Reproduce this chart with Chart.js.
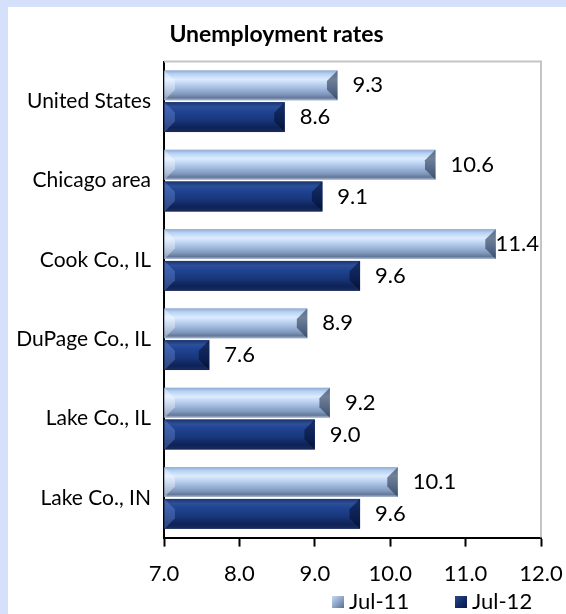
<!DOCTYPE html>
<html>
<head>
<meta charset="utf-8">
<script src="https://cdn.jsdelivr.net/npm/chart.js@4"></script>
<style>
  html, body { margin: 0; padding: 0; background: #d5e0fa; }
  #panel { position: absolute; left: 8px; top: 7px; width: 558px; height: 607px; background: #fff; }
</style>
</head>
<body>
<div id="panel"><canvas id="canvas1" width="558" height="607"></canvas></div>
<script>
// categories top to bottom, values in percent
const categories = ["United States", "Chicago area", "Cook Co., IL", "DuPage Co., IL", "Lake Co., IL", "Lake Co., IN"];
const jul11 = [9.3, 10.6, 11.4, 8.9, 9.2, 10.1];
const jul12 = [8.6, 9.1, 9.6, 7.6, 9.0, 9.6];
const seriesNames = ["Jul-11", "Jul-12"];
const xTicks = [7, 8, 9, 10, 11, 12];

const FONT = "Lato, 'Open Sans', sans-serif";

function barGradient(ctx, di, top, bottom) {
  const g = ctx.createLinearGradient(0, top, 0, bottom);
  if (di === 0) {
    g.addColorStop(0, "#90acd6");
    g.addColorStop(0.12, "#b8d2f2");
    g.addColorStop(0.3, "#dcecff");
    g.addColorStop(0.55, "#abc3e6");
    g.addColorStop(0.8, "#8098bc");
    g.addColorStop(0.92, "#62789a");
    g.addColorStop(1, "#b0bcce");
  } else {
    g.addColorStop(0, "#1a3470");
    g.addColorStop(0.15, "#2c4f9a");
    g.addColorStop(0.35, "#1e4190");
    g.addColorStop(0.6, "#183678");
    g.addColorStop(0.85, "#0e2258");
    g.addColorStop(1, "#1c2c58");
  }
  return g;
}

// glossy bevel look on each bar, drawn over the plain bar
const bevelBars = {
  id: "bevelBars",
  afterDatasetsDraw(chart) {
    const ctx = chart.ctx;
    const area = chart.chartArea;
    chart.data.datasets.forEach((ds, di) => {
      const meta = chart.getDatasetMeta(di);
      meta.data.forEach((bar) => {
        const p = bar.getProps(["x", "y", "base", "height"], true);
        const left = Math.max(p.base, area.left);
        const right = p.x;
        const top = p.y - p.height / 2;
        const bottom = p.y + p.height / 2;
        const h = bottom - top;
        ctx.save();
        ctx.fillStyle = barGradient(ctx, di, top, bottom);
        ctx.fillRect(left, top, right - left, h);
        const b = Math.min(h * 0.35, (right - left) / 2);
        // right end, darker wedge
        ctx.fillStyle = di === 0 ? "rgba(40,55,80,0.6)" : "rgba(0,10,40,0.5)";
        ctx.beginPath();
        ctx.moveTo(right, top);
        ctx.lineTo(right - b, top + b);
        ctx.lineTo(right - b, bottom - b);
        ctx.lineTo(right, bottom);
        ctx.closePath();
        ctx.fill();
        // left end, lighter wedge
        ctx.fillStyle = di === 0 ? "rgba(255,255,255,0.35)" : "rgba(120,150,220,0.35)";
        ctx.beginPath();
        ctx.moveTo(left, top);
        ctx.lineTo(left + b, top + b);
        ctx.lineTo(left + b, bottom - b);
        ctx.lineTo(left, bottom);
        ctx.closePath();
        ctx.fill();
        ctx.restore();
      });
    });
  }
};

// value labels just past the bar end
const valueLabels = {
  id: "valueLabels",
  afterDatasetsDraw(chart) {
    const ctx = chart.ctx;
    const area = chart.chartArea;
    ctx.save();
    ctx.font = "22px " + FONT;
    ctx.fillStyle = "#000";
    ctx.textBaseline = "middle";
    chart.data.datasets.forEach((ds, di) => {
      chart.getDatasetMeta(di).data.forEach((bar, i) => {
        const txt = ds.data[i].toFixed(1);
        const w = ctx.measureText(txt).width;
        let x = bar.x + 15;
        if (x + w > area.right - 2) x = area.right - 2 - w;
        ctx.fillText(txt, x, bar.y);
      });
    });
    ctx.restore();
  }
};

// grey plot-area border on top and right
const plotBorder = {
  id: "plotBorder",
  beforeDatasetsDraw(chart) {
    const ctx = chart.ctx;
    const a = chart.chartArea;
    ctx.save();
    ctx.strokeStyle = "#c4c4c4";
    ctx.lineWidth = 2;
    ctx.beginPath();
    ctx.moveTo(a.left, a.top);
    ctx.lineTo(a.right, a.top);
    ctx.lineTo(a.right, a.bottom);
    ctx.stroke();
    ctx.restore();
  }
};

// legend at bottom right, Excel-like spacing
const legendBoxes = {
  id: "legendBoxes",
  afterDraw(chart) {
    const ctx = chart.ctx;
    const startX = [324, 447];
    const y = 595;
    ctx.save();
    ctx.font = "22px " + FONT;
    ctx.textBaseline = "middle";
    chart.data.datasets.forEach((ds, di) => {
      const x = startX[di];
      const g = ctx.createLinearGradient(x, y - 6, x + 12, y + 6);
      if (di === 0) { g.addColorStop(0, "#c8daf2"); g.addColorStop(0.5, "#8ea6c8"); g.addColorStop(1, "#5a6f90"); }
      else { g.addColorStop(0, "#2a4a90"); g.addColorStop(0.5, "#142c68"); g.addColorStop(1, "#0a1a48"); }
      ctx.fillStyle = g;
      ctx.fillRect(x, y - 6, 12, 12);
      ctx.fillStyle = "#000";
      ctx.fillText(ds.label, x + 17, y);
    });
    ctx.restore();
  }
};

window.onload = function () {
  let ctx1 = document.getElementById("canvas1").getContext("2d");
  new Chart(ctx1, {
    type: "bar",
    data: {
      labels: categories,
      datasets: [
        {
          label: seriesNames[0],
          data: jul11,
          base: 7,
          backgroundColor: "#9fb6d6",
          borderWidth: 0,
          barPercentage: 0.94,
          categoryPercentage: 0.8,
        },
        {
          label: seriesNames[1],
          data: jul12,
          base: 7,
          backgroundColor: "#142c68",
          borderWidth: 0,
          barPercentage: 0.94,
          categoryPercentage: 0.8,
        },
      ],
    },
    options: {
      indexAxis: "y",
      responsive: false,
      animation: false,
      layout: { padding: { left: 4, right: 25, top: 0, bottom: 13 } },
      scales: {
        x: {
          min: xTicks[0],
          max: xTicks[xTicks.length - 1],
          afterBuildTicks: (scale) => { scale.ticks = xTicks.map((v) => ({ value: v })); },
          afterFit: (scale) => { scale.paddingLeft = 0; scale.paddingRight = 0; },
          ticks: {
            color: "#000",
            font: { family: FONT, size: 22 },
            padding: 14,
            maxRotation: 0,
            callback: (v) => Number(v).toFixed(1),
          },
          grid: { drawOnChartArea: false, color: "#000", tickLength: 9, tickWidth: 2 },
          border: { color: "#000", width: 2 },
        },
        y: {
          ticks: { color: "#000", font: { family: FONT, size: 21 }, padding: 13 },
          grid: { display: false, drawTicks: false },
          border: { color: "#000", width: 2 },
          afterFit: (scale) => { scale.width = 152; },
        },
      },
      plugins: {
        title: {
          display: true,
          text: "Unemployment rates",
          color: "#000",
          font: { family: FONT, size: 23, weight: "bold" },
          padding: { top: 14, bottom: 13 },
        },
        legend: { display: false },
        tooltip: { enabled: false },
      },
    },
    plugins: [plotBorder, bevelBars, valueLabels, legendBoxes],
  });
};
</script>
</body>
</html>
